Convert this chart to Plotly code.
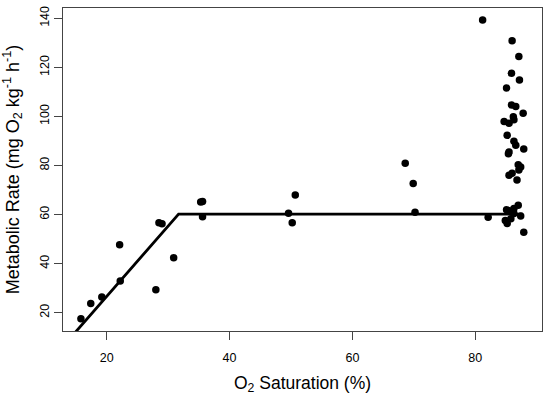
import plotly.graph_objects as go

# O2 saturation (%) and metabolic rate (mg O2 kg-1 h-1)
sat = [15.8, 17.4, 19.2, 22.1, 22.2, 28.0, 28.5, 29.0, 30.9, 35.3, 35.6, 35.6,
       49.6, 50.2, 50.7, 68.6, 69.9, 70.2,
       81.2, 86.0, 87.1, 85.9, 87.2, 85.1, 85.9, 86.6, 87.8, 86.2, 84.7, 86.3,
       85.5, 85.2, 86.3, 86.6, 87.9, 85.5, 85.4, 87.0, 87.4, 87.1, 85.5, 86.0,
       86.8, 87.0, 86.3, 85.1, 85.5, 86.3, 82.1, 87.4, 85.8, 84.9, 85.2, 87.9]
rate = [17.5, 23.7, 26.4, 47.7, 32.9, 29.4, 56.7, 56.3, 42.4, 65.1, 65.3, 59.1,
        60.5, 56.7, 68.0, 80.9, 72.7, 60.9,
        139.3, 130.9, 124.4, 117.6, 114.9, 111.6, 104.7, 104.0, 101.3, 99.9, 97.9, 98.6,
        97.2, 92.3, 89.9, 88.3, 86.7, 85.5, 84.8, 80.3, 79.4, 78.2, 76.0, 76.8,
        74.1, 63.8, 62.5, 62.0, 61.6, 60.4, 58.9, 59.4, 58.3, 57.6, 56.4, 52.8]

# Broken-stick fit line vertices
fit_x = [14.5, 31.7, 87.7]
fit_y = [10.9, 60.2, 60.2]

x_ticks = [20, 40, 60, 80]
y_ticks = [20, 40, 60, 80, 100, 120, 140]

fig = go.Figure()
fig.add_trace(go.Scatter(x=sat, y=rate, mode="markers",
                         marker=dict(color="black", size=7.5),
                         cliponaxis=False, showlegend=False))
fig.add_trace(go.Scatter(x=fit_x, y=fit_y, mode="lines",
                         line=dict(color="black", width=2.8),
                         showlegend=False))

font = "Liberation Sans, Arial, sans-serif"
fig.update_layout(
    width=550, height=398,
    margin=dict(l=63, r=8.3, t=8, b=67),
    plot_bgcolor="white", paper_bgcolor="white",
    font=dict(family=font, color="black"),
    xaxis=dict(range=[12.88, 90.87], tickvals=x_ticks, ticks="outside",
               ticklen=8, tickcolor="#444", showgrid=False, zeroline=False,
               showline=True, mirror=True, linecolor="#444", linewidth=1,
               tickfont=dict(size=12.5), automargin=False, ticklabelstandoff=7,
               title=dict(text="O<sub>2</sub> Saturation (%)", font=dict(size=17.5), standoff=12)),
    yaxis=dict(range=[12.54, 144.2], tickvals=y_ticks, ticks="outside",
               ticklen=8, tickcolor="#444", showgrid=False, zeroline=False,
               showline=True, mirror=True, linecolor="#444", linewidth=1,
               tickangle=-90, tickfont=dict(size=12.5), automargin=False,
               title=dict(text="Metabolic Rate (mg O<sub>2</sub> kg<sup>-1</sup> h<sup>-1</sup>)",
                          font=dict(size=18), standoff=14)),
)

fig.write_html("out.html", config={"displayModeBar": False},
               post_script="document.body.style.margin='0';")
